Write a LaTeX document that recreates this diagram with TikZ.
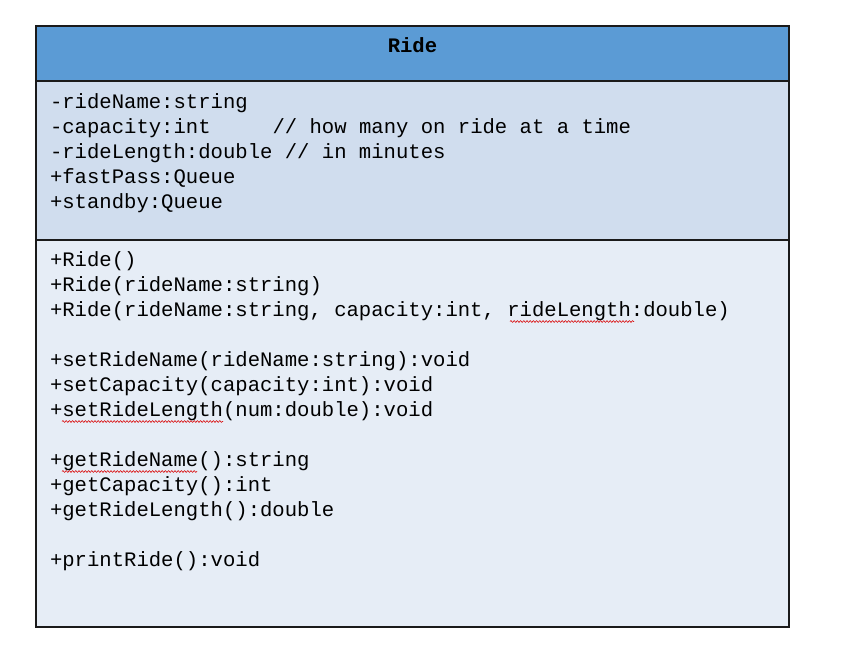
\documentclass[tikz,border=0pt]{standalone}
\usepackage{fontspec}
\setmonofont{Liberation Mono}
\usetikzlibrary{decorations.pathmorphing}
\definecolor{headblue}{HTML}{5B9BD5}
\definecolor{attrblue}{HTML}{D0DDEE}
\definecolor{methblue}{HTML}{E6EDF6}
\definecolor{edge}{HTML}{1A1A1A}
\tikzset{
  compartment/.style={draw=edge, line width=1.8pt, minimum width=753pt, inner sep=0pt, outer sep=0pt},
  member/.style={anchor=base west, inner sep=0pt, outer sep=0pt, font=\ttfamily\fontsize{20.6}{25}\selectfont},
  title/.style={anchor=base, inner sep=0pt, font=\ttfamily\bfseries\fontsize{20.6}{25}\selectfont},
  spell/.style={draw=red!85!black, line width=0.55pt, decorate, decoration={snake, segment length=3.2pt, amplitude=0.9pt}}
}
\begin{document}
\begin{tikzpicture}[x=1pt,y=1pt]
\useasboundingbox (0,0) rectangle (847,-654);
\fill[white] (0,0) rectangle (847,-654);
% compartments
\node[compartment, fill=methblue, minimum height=387pt] (methods) at (412.5,-433.5) {};
\node[compartment, fill=attrblue, minimum height=159pt] (attrs) at (412.5,-160.5) {};
\node[compartment, fill=headblue, minimum height=55pt] (head) at (412.5,-53.5) {};
% title
\node[title] (name) at (412.5,-52) {Ride};
% attributes
\node[member] (a1) at (50,-108) {-rideName:string};
\node[member] (a2) at (50,-133) {-capacity:int\ \ \ \ \ // how many on ride at a time};
\node[member] (a3) at (50,-158) {-rideLength:double // in minutes};
\node[member] (a4) at (50,-183) {+fastPass:Queue};
\node[member] (a5) at (50,-208) {+standby:Queue};
% methods
\node[member] (m1) at (50,-266) {+Ride()};
\node[member] (m2) at (50,-291) {+Ride(rideName:string)};
\node[member] (m3) at (50,-316) {+Ride(rideName:string, capacity:int, rideLength:double)};
\node[member] (m4) at (50,-366) {+setRideName(rideName:string):void};
\node[member] (m5) at (50,-391) {+setCapacity(capacity:int):void};
\node[member] (m6) at (50,-416) {+setRideLength(num:double):void};
\node[member] (m7) at (50,-466) {+getRideName():string};
\node[member] (m8) at (50,-491) {+getCapacity():int};
\node[member] (m9) at (50,-516) {+getRideLength():double};
\node[member] (m10) at (50,-566) {+printRide():void};
% spell-check underlines
\draw[spell] (510,-321.5) -- (634,-321.5);
\draw[spell] (62,-421.5) -- (223,-421.5);
\draw[spell] (62,-471.5) -- (197,-471.5);
\end{tikzpicture}
\end{document}
